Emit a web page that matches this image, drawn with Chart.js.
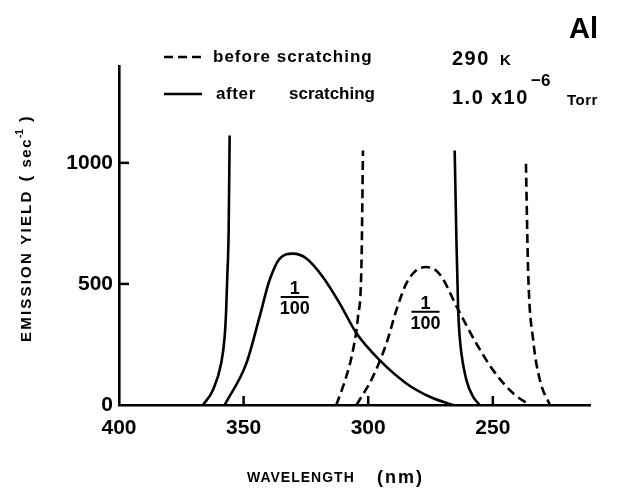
<!DOCTYPE html>
<html><head><meta charset="utf-8">
<script src="https://cdn.jsdelivr.net/npm/chart.js@4"></script>
<style>html,body{margin:0;padding:0;background:#fff}</style>
</head><body>
<canvas id="c" width="620" height="500"></canvas>
<script>
// ---- data (wavelength in nm, emission yield in 1/s) ----
const afterSpikeWl   = [366.3, 362.3, 359.0, 357.6, 357.0, 356.6, 356.0, 355.6];
const afterSpikeVal  = [0, 62, 172, 282, 392, 515, 721, 1113];
const afterBroadWl   = [357.6, 348.9, 343.6, 339.6, 335.5, 330.2, 324.8, 318.2, 311.4, 304.7, 295.4, 284.7, 275.3, 266.0];
const afterBroadVal  = [0, 172, 364, 515, 605, 625, 605, 529, 419, 296, 185, 89, 34, 0];
const afterSpike2Wl  = [265.3, 264.6, 263.9, 263.3, 262.6, 260.6, 257.9, 255.2];
const afterSpike2Val = [1051, 680, 392, 282, 213, 103, 34, 0];

const beforeSpikeWl   = [312.8, 308.8, 306.1, 304.1, 302.7, 302.1];
const beforeSpikeVal  = [0, 117, 227, 364, 584, 1051];
const beforeBroadWl   = [304.7, 298.1, 292.7, 288.7, 284.7, 280.7, 276.7, 271.3, 264.2, 256.6, 249.9, 241.8, 235.2];
const beforeBroadVal  = [0, 117, 254, 392, 502, 556, 570, 540, 400, 254, 144, 48, 0];
const beforeSpike2Wl  = [236.7, 235.8, 233.8, 231.1, 227.1];
const beforeSpike2Val = [996, 543, 268, 103, 0];

const xTicks = [400, 350, 300, 250];
const yTicks = [0, 500, 1000];
const xRange = [211, 400];
const yRange = [0, 1400];

// fraction labels "1/100" attached to the broad peaks (data coords of the bar)
const fractionLabels = [{wl: 329.5, val: 446}, {wl: 277.0, val: 385}];

const pts = (xs, ys) => xs.map((x, i) => ({x: x, y: ys[i]}));
const FONT = '"Liberation Sans", Arial, sans-serif';

const solid = {borderColor: '#000', borderWidth: 2.6, pointRadius: 0, fill: false, cubicInterpolationMode: 'monotone'};
const dashed = Object.assign({}, solid, {borderDash: [9, 5]});

const datasets = [
  Object.assign({label: 'after', data: pts(afterSpikeWl, afterSpikeVal)}, solid),
  Object.assign({label: 'after', data: pts(afterBroadWl, afterBroadVal)}, solid),
  Object.assign({label: 'after', data: pts(afterSpike2Wl, afterSpike2Val)}, solid),
  Object.assign({label: 'before', data: pts(beforeSpikeWl, beforeSpikeVal)}, dashed),
  Object.assign({label: 'before', data: pts(beforeBroadWl, beforeBroadVal)}, dashed),
  Object.assign({label: 'before', data: pts(beforeSpike2Wl, beforeSpike2Val)}, dashed)
];

const decor = {
  id: 'decor',
  afterDraw(chart) {
    const ctx = chart.ctx;
    const xs = chart.scales.x, ys = chart.scales.y;
    const ca = chart.chartArea;
    ctx.save();
    ctx.strokeStyle = '#000';
    ctx.fillStyle = '#000';
    // inward tick marks
    ctx.lineWidth = 2.5;
    xTicks.forEach(v => {
      if (v === xRange[1]) return;
      const px = xs.getPixelForValue(v);
      ctx.beginPath(); ctx.moveTo(px, ca.bottom); ctx.lineTo(px, ca.bottom - 9); ctx.stroke();
    });
    yTicks.forEach(v => {
      if (v === 0) return;
      const py = ys.getPixelForValue(v);
      ctx.beginPath(); ctx.moveTo(ca.left, py); ctx.lineTo(ca.left + 10, py); ctx.stroke();
    });
    // fraction labels
    ctx.textAlign = 'center';
    fractionLabels.forEach(f => {
      const px = xs.getPixelForValue(f.wl), py = ys.getPixelForValue(f.val);
      ctx.font = 'bold 18px ' + FONT;
      ctx.textBaseline = 'alphabetic';
      ctx.fillText('1', px, py - 3);
      ctx.lineWidth = 2;
      ctx.beginPath(); ctx.moveTo(px - 14, py); ctx.lineTo(px + 14, py); ctx.stroke();
      ctx.fillText('100', px, py + 17);
    });
    // legend
    ctx.lineWidth = 2.6;
    ctx.setLineDash([9, 5]);
    ctx.beginPath(); ctx.moveTo(164, 57); ctx.lineTo(202, 57); ctx.stroke();
    ctx.setLineDash([]);
    ctx.beginPath(); ctx.moveTo(164, 94); ctx.lineTo(202, 94); ctx.stroke();
    ctx.textAlign = 'left';
    ctx.textBaseline = 'middle';
    ctx.font = 'bold 17px ' + FONT;
    ctx.letterSpacing = '1px';
    ctx.fillText('before scratching', 213, 57);
    ctx.letterSpacing = '0.6px';
    ctx.fillText('after', 216, 94);
    ctx.letterSpacing = '0px';
    ctx.fillText('scratching', 289, 94);
    // conditions
    ctx.textBaseline = 'alphabetic';
    ctx.letterSpacing = '1.5px';
    ctx.font = 'bold 20px ' + FONT;
    ctx.fillText('290', 452, 65);
    ctx.font = 'bold 15px ' + FONT;
    ctx.letterSpacing = '0px';
    ctx.fillText('K', 500, 65);
    ctx.letterSpacing = '1.5px';
    ctx.font = 'bold 20px ' + FONT;
    ctx.fillText('1.0', 452, 104);
    ctx.fillText('x10', 491, 104);
    ctx.font = 'bold 17px ' + FONT;
    ctx.letterSpacing = '0px';
    ctx.fillText('\u22126', 531, 86);
    ctx.font = 'bold 15px ' + FONT;
    ctx.letterSpacing = '0.5px';
    ctx.fillText('Torr', 567, 105);
    // Al
    ctx.letterSpacing = '0px';
    ctx.font = 'bold 29px ' + FONT;
    ctx.fillText('Al', 569, 38);
    // x axis title
    ctx.font = 'bold 14px ' + FONT;
    ctx.letterSpacing = '1px';
    ctx.fillText('WAVELENGTH', 247, 482);
    ctx.font = 'bold 18px ' + FONT;
    ctx.letterSpacing = '2px';
    ctx.fillText('(nm)', 377, 483);
    // y axis title
    ctx.translate(31, 342);
    ctx.rotate(-Math.PI / 2);
    ctx.font = 'bold 15px ' + FONT;
    ctx.letterSpacing = '2.2px';
    ctx.fillText('EMISSION YIELD', 0, 0);
    let w = ctx.measureText('EMISSION YIELD').width;
    ctx.font = 'bold 17px ' + FONT;
    ctx.fillText('(', w + 8, 0);
    ctx.font = 'bold 15px ' + FONT;
    ctx.letterSpacing = '1.5px';
    ctx.fillText('sec', w + 22, 0);
    let w2 = ctx.measureText('sec').width;
    ctx.font = 'bold 10px ' + FONT;
    ctx.letterSpacing = '0px';
    ctx.fillText('-1', w + 22 + w2, -8);
    ctx.font = 'bold 17px ' + FONT;
    ctx.fillText(')', w + 38 + w2, 0);
    ctx.restore();
  }
};

new Chart(document.getElementById('c'), {
  type: 'line',
  data: {datasets: datasets},
  options: {
    responsive: false,
    animation: false,
    devicePixelRatio: 1,
    layout: {padding: {top: 66, right: 30, left: 0, bottom: 0}},
    plugins: {legend: {display: false}, tooltip: {enabled: false}},
    scales: {
      x: {
        type: 'linear', reverse: true, min: xRange[0], max: xRange[1],
        afterBuildTicks: a => { a.ticks = xTicks.map(v => ({value: v})); },
        afterFit: s => { s.height = 95; },
        grid: {display: true, drawOnChartArea: false, drawTicks: false},
        border: {display: true, color: '#000', width: 2.6},
        ticks: {color: '#000', padding: 11, autoSkip: false, maxRotation: 0,
                callback: v => String(v),
                font: {family: FONT, size: 21, weight: 'bold'}}
      },
      y: {
        min: yRange[0], max: yRange[1],
        afterBuildTicks: a => { a.ticks = yTicks.map(v => ({value: v})); },
        afterFit: s => { s.width = 119; },
        grid: {display: true, drawOnChartArea: false, drawTicks: false},
        border: {display: true, color: '#000', width: 2.6},
        ticks: {color: '#000', padding: 6,
                callback: v => String(v),
                font: {family: FONT, size: 21, weight: 'bold'}}
      }
    }
  },
  plugins: [decor]
});
</script>
</body></html>
